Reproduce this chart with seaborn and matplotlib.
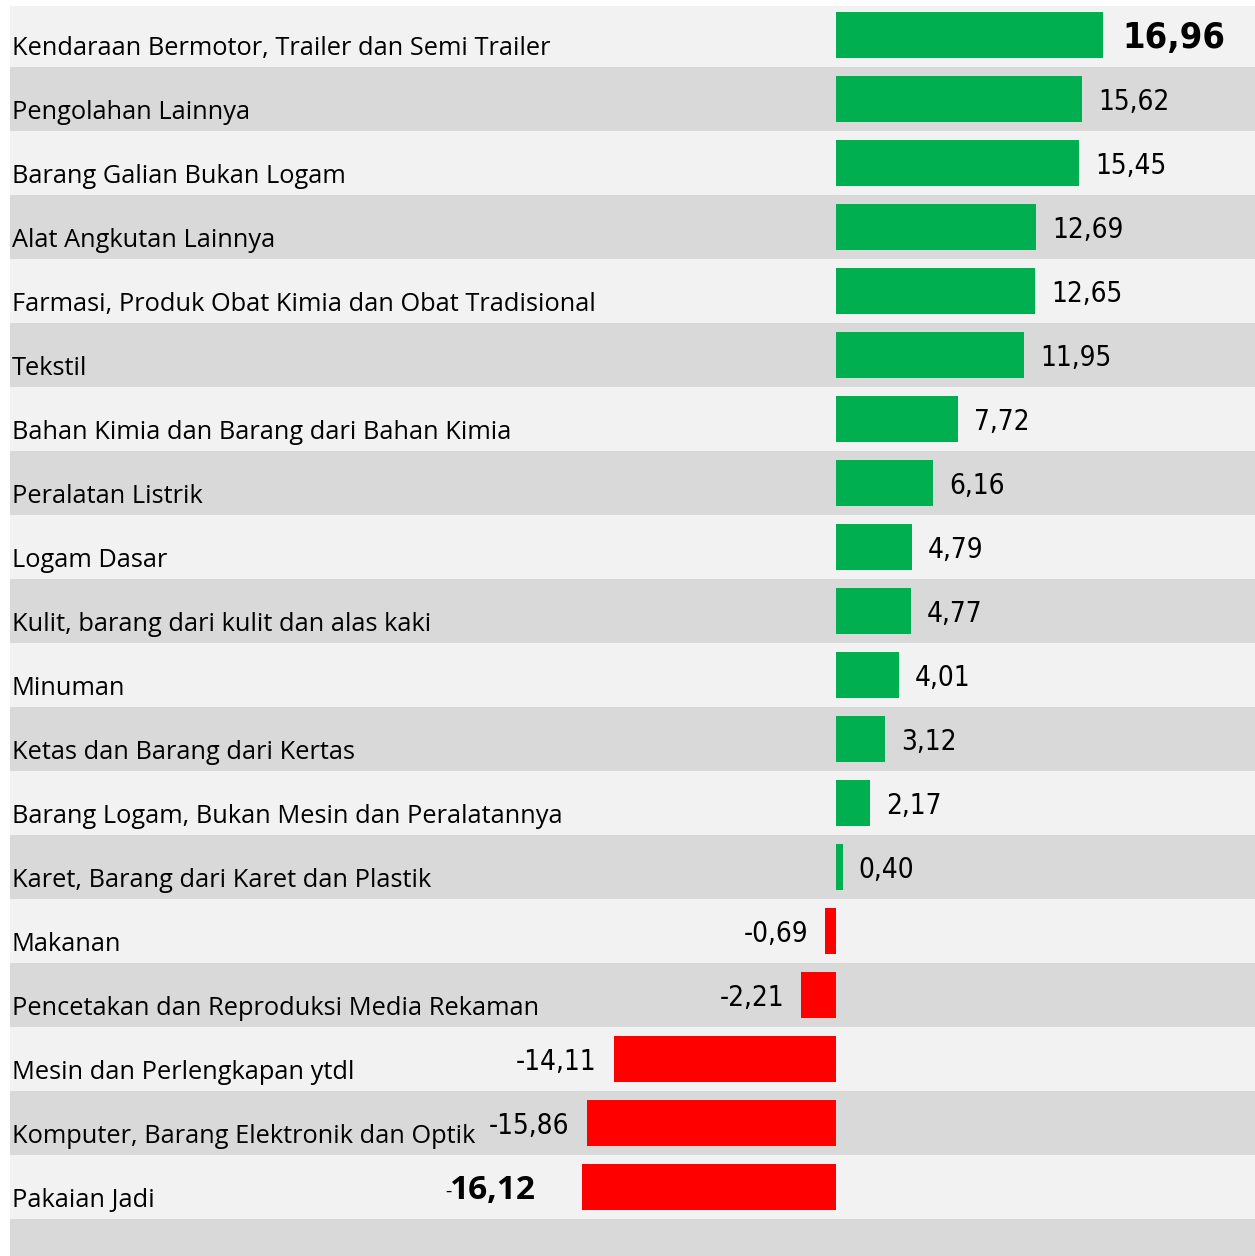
import matplotlib.pyplot as plt
import matplotlib.transforms as mtransforms
import seaborn as sns

categories = [
    "Kendaraan Bermotor, Trailer dan Semi Trailer",
    "Pengolahan Lainnya",
    "Barang Galian Bukan Logam",
    "Alat Angkutan Lainnya",
    "Farmasi, Produk Obat Kimia dan Obat Tradisional",
    "Tekstil",
    "Bahan Kimia dan Barang dari Bahan Kimia",
    "Peralatan Listrik",
    "Logam Dasar",
    "Kulit, barang dari kulit dan alas kaki",
    "Minuman",
    "Ketas dan Barang dari Kertas",
    "Barang Logam, Bukan Mesin dan Peralatannya",
    "Karet, Barang dari Karet dan Plastik",
    "Makanan",
    "Pencetakan dan Reproduksi Media Rekaman",
    "Mesin dan Perlengkapan ytdl",
    "Komputer, Barang Elektronik dan Optik",
    "Pakaian Jadi",
]
values = [16.96, 15.62, 15.45, 12.69, 12.65, 11.95, 7.72, 6.16, 4.79, 4.77,
          4.01, 3.12, 2.17, 0.40, -0.69, -2.21, -14.11, -15.86, -16.12]

GREEN = "#00B050"
RED = "#FF0000"
LIGHT = "#F2F2F2"
DARK = "#D9D9D9"

sns.set_theme(style="white")
plt.rcParams["font.family"] = ["Open Sans", "DejaVu Sans"]
plt.rcParams["text.color"] = "black"

fig = plt.figure(figsize=(12.55, 12.56), dpi=100)
ax = fig.add_axes([10 / 1255, 0, 1245 / 1255, 1250 / 1256])

# alternating row bands (one extra band below the last row)
for i in range(len(categories) + 1):
    ax.axhspan(i - 0.5, i + 0.5, color=LIGHT if i % 2 == 0 else DARK, zorder=0, lw=0)

colors = [GREEN if v >= 0 else RED for v in values]
sns.barplot(x=values, y=categories, hue=categories, palette=colors, legend=False,
            width=0.72, saturation=1, linewidth=0, ax=ax, zorder=2, orient="h")

ax.set_xlim(-52.48, 26.6)
ax.set_ylim(19.08, -0.453)
ax.set_xticks([])
ax.set_yticks([])
ax.set_xlabel("")
ax.set_ylabel("")
for s in ax.spines.values():
    s.set_visible(False)

trans = mtransforms.blended_transform_factory(ax.transAxes, ax.transData)
for i, name in enumerate(categories):
    ax.text(0.0016, i + 0.31, name, transform=trans, fontsize=18.3,
            va="baseline", ha="left", color="black", zorder=3)

narrow = dict(family="DejaVu Sans", stretch="condensed")
last = len(values) - 1
for i, v in enumerate(values):
    txt = f"{v:.2f}".replace(".", ",")
    y = i + 0.05
    if i == 0:
        ax.text(v + 1.2, y, txt, fontsize=26, fontweight="bold", **narrow,
                ha="left", va="center", zorder=3)
    elif i == last:
        ax.text(v - 2.94, y, txt.lstrip("-"), fontsize=24, fontweight="bold",
                ha="right", va="center", zorder=3)
        ax.text(v - 8.34, y + 0.03, "-", fontsize=14, ha="right", va="center", zorder=3)
    elif v >= 0:
        ax.text(v + 1.0, y, txt, fontsize=20, **narrow,
                ha="left", va="center", zorder=3)
    else:
        ax.text(v - 1.1, y, txt, fontsize=20, **narrow,
                ha="right", va="center", zorder=3)

fig.savefig("out.png", dpi=100, facecolor="white")
